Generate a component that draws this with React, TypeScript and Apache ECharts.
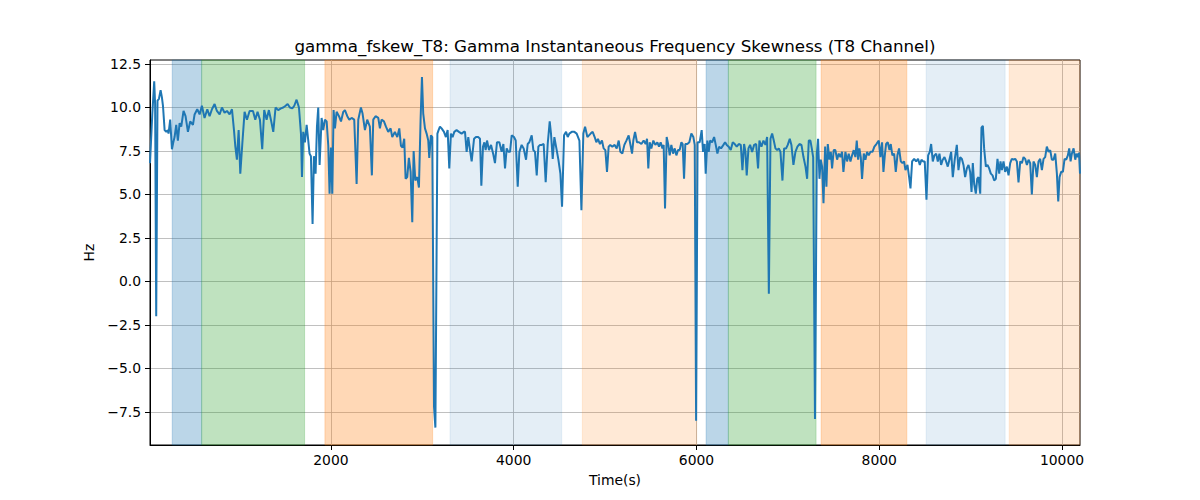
import { useEffect, useRef } from "react";
import * as echarts from "echarts";

const timeS = [
  20, 45, 66, 76, 88, 102, 118, 136, 150, 162, 180, 198, 215, 223, 241, 260, 275, 289, 307, 325, 344, 362, 387, 409, 435, 460, 490, 508, 537, 563, 588, 617, 647, 672, 698, 727, 752, 782, 807, 836, 862, 891, 917, 939, 953, 971, 990, 1008, 1030, 1055, 1081, 1110, 1147, 1172,
  1197, 1223, 1248, 1270, 1296, 1321, 1343, 1369, 1394, 1423, 1453, 1478, 1504, 1526, 1551, 1577, 1599, 1624, 1650, 1672, 1683, 1697, 1715, 1734, 1752, 1766, 1781, 1799, 1814, 1832, 1847, 1861, 1876, 1898, 1916, 1934, 1953, 1971, 1985, 2000, 2015, 2029, 2044, 2062, 2088, 2110, 2135, 2153, 2179, 2201, 2226, 2255, 2281, 2299, 2328,
  2346, 2372, 2397, 2426, 2448, 2463, 2488, 2518, 2536, 2554, 2580, 2602, 2627, 2653, 2671, 2700, 2726, 2748, 2766, 2784, 2802, 2817, 2835, 2853, 2872, 2890, 2905, 2923, 2945, 2963, 2981, 2996, 3010, 3029, 3047, 3065, 3076, 3094, 3109, 3128, 3143, 3165, 3178, 3193, 3211, 3237, 3258, 3277, 3295, 3313, 3331, 3350, 3375, 3401, 3430, 3455,
  3467, 3485, 3503, 3522, 3540, 3566, 3587, 3613, 3631, 3646, 3664, 3679, 3693, 3708, 3730, 3752, 3777, 3795, 3817, 3843, 3868, 3887, 3905, 3923, 3941, 3960, 3978, 4003, 4022, 4044, 4062, 4087, 4109, 4135, 4153, 4171, 4197, 4215, 4233, 4252, 4270, 4288, 4306, 4328, 4350, 4372, 4394, 4408, 4427, 4445, 4467, 4489, 4511, 4529, 4551, 4573, 4591, 4609, 4635, 4664, 4689, 4719, 4741, 4762, 4781, 4806,
  4842, 4864, 4886, 4904, 4922, 4944, 4966, 4984, 5003, 5021, 5039, 5057, 5079, 5105, 5127, 5149, 5167, 5189, 5211, 5233, 5258, 5276, 5295, 5309, 5328, 5349, 5371, 5397, 5422, 5444, 5459, 5473, 5488, 5506, 5528, 5550, 5572, 5590, 5608, 5627, 5641, 5656, 5674, 5692, 5707, 5725, 5744, 5762, 5780, 5798, 5816, 5835, 5849, 5864, 5878, 5900, 5922, 5944, 5966, 5981, 5996, 6012, 6035, 6057, 6072, 6090, 6101, 6119, 6134,
  6149, 6171, 6193, 6211, 6229, 6248, 6269, 6295, 6313, 6331, 6353, 6375, 6397, 6419, 6441, 6463, 6485, 6503, 6521, 6536, 6550, 6569, 6587, 6609, 6631, 6653, 6674, 6689, 6711, 6733, 6755, 6773, 6792, 6810, 6828, 6846, 6864, 6883, 6901, 6919, 6941, 6959, 6981, 6999, 7021, 7039, 7061, 7083, 7105, 7127, 7149, 7171, 7193, 7211, 7229, 7247, 7262, 7277, 7297, 7317, 7331, 7346, 7360, 7375, 7390, 7408, 7422, 7437, 7455, 7470,
  7484, 7502, 7520, 7539, 7557, 7575, 7593, 7608, 7630, 7648, 7666, 7685, 7703, 7721, 7739, 7754, 7769, 7783, 7798, 7812, 7831, 7849, 7867, 7885, 7904, 7926, 7947, 7969, 7995, 8013, 8031, 8046, 8061, 8075, 8093, 8112, 8126, 8144, 8163, 8181, 8199, 8217, 8236, 8254, 8272, 8287, 8309, 8327, 8342, 8360, 8382, 8404, 8425, 8444, 8462, 8480, 8498, 8517, 8535, 8553, 8568, 8586, 8604, 8623, 8641, 8659, 8677, 8695, 8714, 8732, 8750, 8768, 8787, 8805, 8827,
  8849, 8867, 8886, 8904, 8922, 8940, 8959, 8977, 8995, 9010, 9024, 9039, 9057, 9072, 9086, 9105, 9119, 9134, 9148, 9167, 9185, 9203, 9221, 9240, 9258, 9276, 9294, 9313, 9327, 9342, 9360, 9378, 9397, 9415, 9433, 9451, 9470, 9488, 9506, 9524, 9543, 9561, 9579, 9597, 9616, 9634, 9652, 9670, 9688, 9707, 9725, 9743, 9761, 9780, 9798, 9816, 9834, 9853, 9871, 9889, 9907, 9926, 9944, 9959, 9973, 9991, 10010, 10028, 10046, 10064, 10079, 10094, 10108, 10127, 10145, 10159, 10174, 10186, 10197,
];

const skewHz = [
  6.8, 9.6, 11.5, 10.2, -2.0, 10.4, 10.5, 11.0, 10.6, 10.1, 8.7, 8.6, 8.7, 8.5, 9.3, 7.6, 8.0, 8.3, 9.0, 8.1, 9.1, 8.9, 9.8, 9.5, 8.6, 9.2, 9.0, 9.6, 9.9, 9.6, 10.1, 9.4, 9.9, 9.5, 9.9, 10.2, 9.8, 9.6, 10.0, 9.7, 9.8, 9.6, 9.9, 8.7, 7.8, 7.0, 8.7, 6.2, 7.9, 9.75, 9.3, 9.8, 9.8, 9.3,
  9.75, 9.3, 7.6, 9.85, 9.3, 9.85, 9.3, 8.6, 10.0, 9.85, 9.95, 10.0, 10.1, 10.2, 10.0, 9.95, 10.1, 10.45, 10.0, 8.5, 6.0, 8.6, 8.0, 9.0, 8.1, 7.35, 7.2, 3.3, 7.2, 6.2, 8.9, 10.0, 6.7, 9.4, 8.7, 9.3, 9.2, 7.8, 5.05, 7.7, 5.05, 9.85, 8.8, 9.75, 9.5, 9.2, 9.75, 9.85, 9.5, 9.3, 9.4, 9.3, 5.6, 9.3, 10.0,
  9.65, 8.7, 9.3, 8.9, 6.1, 9.3, 9.5, 9.4, 8.8, 9.3, 9.2, 8.9, 8.6, 8.8, 8.3, 8.6, 8.3, 8.8, 7.8, 7.7, 8.2, 5.9, 6.0, 7.1, 6.3, 3.4, 7.5, 5.8, 6.0, 5.4, 9.3, 11.75, 9.65, 8.8, 8.5, 8.1, 7.1, 8.4, 8.3, -7.2, -8.4, 8.5, 8.7, 8.9, 8.8, 8.6, 8.3, 8.7, 6.5, 8.5, 8.3, 8.6, 8.7, 8.6, 8.5, 8.6,
  8.6, 7.45, 8.3, 7.55, 6.9, 8.2, 8.3, 8.3, 8.2, 5.5, 7.75, 8.0, 7.55, 8.1, 7.55, 7.85, 7.3, 6.8, 8.0, 8.0, 7.45, 7.9, 6.5, 7.65, 7.45, 7.45, 8.4, 8.3, 8.1, 5.45, 7.45, 7.85, 7.65, 7.0, 7.9, 8.0, 8.4, 7.55, 7.45, 6.1, 7.75, 7.85, 7.85, 7.9, 5.7, 7.9, 9.2, 8.5, 7.05, 8.3, 7.65, 7.0, 6.2, 4.3, 8.4, 8.6, 8.3, 8.5, 8.6, 8.6, 8.5, 8.1, 4.1, 8.5, 8.9, 8.3,
  8.5, 8.6, 8.3, 8.0, 8.2, 7.9, 8.1, 7.65, 7.55, 6.3, 7.75, 7.85, 7.75, 7.85, 7.65, 8.1, 7.45, 7.35, 7.85, 8.1, 8.4, 7.9, 7.35, 8.1, 8.6, 8.0, 8.0, 7.9, 8.1, 7.9, 8.2, 6.5, 8.0, 7.65, 8.1, 7.85, 8.0, 7.75, 8.0, 7.65, 7.85, 4.2, 8.3, 7.85, 7.25, 7.85, 7.35, 7.65, 7.25, 7.55, 7.55, 8.0, 7.9, 5.9, 7.9, 7.9, 8.0, 8.5, 8.3, 7.85, -8.0, 8.0, 8.0, 8.7, 7.45, 7.9, 6.2, 8.1, 7.45,
  8.1, 8.0, 8.3, 7.85, 7.35, 7.75, 7.65, 7.85, 8.0, 7.85, 7.75, 7.55, 8.0, 7.9, 7.75, 7.9, 7.85, 6.4, 7.9, 7.45, 6.1, 7.65, 7.85, 7.45, 7.85, 7.9, 6.5, 8.1, 7.75, 8.1, 7.85, 8.3, -0.7, 8.2, 8.5, 8.1, 7.65, 7.55, 7.65, 7.45, 5.8, 7.65, 7.65, 7.85, 8.2, 7.85, 6.7, 7.45, 7.75, 7.9, 7.85, 7.15, 6.6, 5.9, 8.1, 8.1, 7.65, 7.15, -7.9, 7.35, 8.2, 5.9, 7.0, 6.6, 4.5, 7.75, 5.45, 7.9, 7.0, 7.45,
  6.5, 7.55, 7.55, 7.0, 7.35, 7.15, 7.45, 6.3, 7.45, 6.9, 7.35, 6.9, 7.25, 7.55, 7.15, 8.1, 7.0, 7.65, 7.15, 5.9, 7.35, 7.0, 7.45, 7.25, 7.45, 7.45, 7.75, 7.9, 8.1, 7.15, 8.0, 6.3, 7.25, 7.9, 8.0, 7.55, 7.9, 7.25, 7.35, 6.3, 7.25, 7.65, 6.9, 6.8, 6.9, 6.4, 6.7, 6.0, 5.35, 6.9, 7.05, 6.9, 7.05, 6.7, 7.0, 6.9, 6.9, 4.7, 7.25, 7.45, 7.9, 6.9, 7.25, 7.35, 6.9, 7.35, 6.7, 7.0, 7.15, 6.9, 6.6, 7.0, 7.45, 6.0, 7.05,
  7.85, 6.4, 7.15, 7.05, 6.7, 6.0, 6.5, 6.7, 6.3, 5.15, 6.8, 5.6, 5.05, 5.9, 6.0, 5.05, 8.85, 8.95, 7.65, 6.6, 6.7, 6.5, 6.2, 6.1, 5.8, 5.9, 7.05, 6.2, 6.9, 6.4, 6.9, 6.3, 6.6, 6.1, 6.8, 7.05, 7.0, 7.05, 6.9, 5.7, 6.9, 6.8, 7.15, 7.05, 6.7, 7.0, 6.8, 5.0, 6.9, 6.7, 6.0, 6.9, 7.05, 6.4, 7.05, 7.15, 7.75, 7.45, 7.55, 7.0, 7.0, 7.35, 6.2, 4.6, 6.0, 6.3, 6.3, 7.05, 7.0, 7.25, 7.65, 6.9, 7.35, 7.65, 7.0, 7.35, 7.15, 7.4, 6.2,
];

const bandStart = [263, 585, 1934, 3303, 4751, 6105, 6349, 7364, 8513, 9422];
const bandEnd = [585, 1712, 3113, 4525, 6003, 6349, 7309, 8302, 9378, 10197];
const bandKind = ["blue", "green", "orange", "lightblue", "lightorange", "blue", "green", "orange", "lightblue", "lightorange"];

const xTicks = [2000, 4000, 6000, 8000, 10000];
const yTicks = [-7.5, -5, -2.5, 0, 2.5, 5, 7.5, 10, 12.5];

const X_MIN = 20;
const X_MAX = 10197;
const Y_MIN = -9.4;
const Y_MAX = 12.73;

const FONT = "DejaVu Sans";

const kindColor: Record<string, string> = {
  blue: "rgba(31,119,180,0.3)",
  green: "rgba(44,160,44,0.3)",
  orange: "rgba(255,127,14,0.3)",
  lightblue: "rgba(31,119,180,0.12)",
  lightorange: "rgba(255,127,14,0.17)",
};

export default function App() {
  const ref = useRef<HTMLDivElement>(null);

  useEffect(() => {
    if (!ref.current) return;
    const chart = echarts.init(ref.current, null, { renderer: "svg" });
    const lineData = timeS.map((t, i) => [t, skewHz[i]]);
    const areas = bandStart.map((s, i) => {
      const c = kindColor[bandKind[i]];
      return [
        { xAxis: s, itemStyle: { color: c, borderColor: c, borderWidth: 0.8 } },
        { xAxis: bandEnd[i] },
      ];
    });

    chart.setOption({
      animation: false,
      graphic: [
        {
          type: "text",
          x: 615,
          y: 54,
          style: {
            text: "gamma_fskew_T8: Gamma Instantaneous Frequency Skewness (T8 Channel)",
            fontSize: 16.7,
            fontFamily: FONT,
            fill: "#000",
            align: "center",
            verticalAlign: "bottom",
            textAlign: "center",
            textVerticalAlign: "bottom",
          },
        },
      ],
      grid: {
        left: 150,
        right: 120,
        top: 60,
        bottom: 55,
        show: true,
        borderColor: "#000",
        borderWidth: 1,
        backgroundColor: "transparent",
      },
      xAxis: {
        type: "value",
        min: X_MIN,
        max: X_MAX,
        name: "Time(s)",
        nameLocation: "middle",
        nameGap: 28,
        nameTextStyle: { fontFamily: FONT, fontSize: 13.9, color: "#000" },
        axisLine: { show: true, onZero: false, lineStyle: { color: "#000", width: 1 } },
        axisTick: { show: true, customValues: xTicks, length: 5, lineStyle: { color: "#000", width: 1 } },
        axisLabel: {
          customValues: xTicks,
          margin: 8,
          fontFamily: FONT,
          fontSize: 13.9,
          color: "#000",
          formatter: (v: number) => String(v),
        },
        splitLine: { show: true, lineStyle: { color: "#b0b0b0", width: 0.8 } },
      },
      yAxis: {
        type: "value",
        min: Y_MIN,
        max: Y_MAX,
        name: "Hz",
        nameLocation: "middle",
        nameGap: 43,
        nameRotate: 90,
        nameTextStyle: { fontFamily: FONT, fontSize: 13.9, color: "#000" },
        axisLine: { show: true, onZero: false, lineStyle: { color: "#000", width: 1 } },
        axisTick: { show: true, customValues: yTicks, length: 5, lineStyle: { color: "#000", width: 1 } },
        axisLabel: {
          customValues: yTicks,
          margin: 9,
          fontFamily: FONT,
          fontSize: 13.9,
          color: "#000",
          formatter: (v: number) => v.toFixed(1).replace("-", "\u2212"),
        },
        splitLine: { show: true, lineStyle: { color: "#b0b0b0", width: 0.8 } },
      },
      series: [
        {
          name: "bands",
          type: "line",
          data: [],
          z: 1,
          silent: true,
          markArea: { silent: true, data: areas },
        },
        {
          name: "gamma_fskew_T8",
          type: "line",
          data: lineData,
          z: 3,
          showSymbol: false,
          symbol: "none",
          lineStyle: { color: "#1f77b4", width: 2 },
          itemStyle: { color: "#1f77b4" },
        },
      ],
    });

    return () => chart.dispose();
  }, []);

  return (
    <div
      ref={ref}
      style={{ position: "fixed", left: 0, top: 0, width: 1200, height: 500, background: "#fff" }}
    />
  );
}
